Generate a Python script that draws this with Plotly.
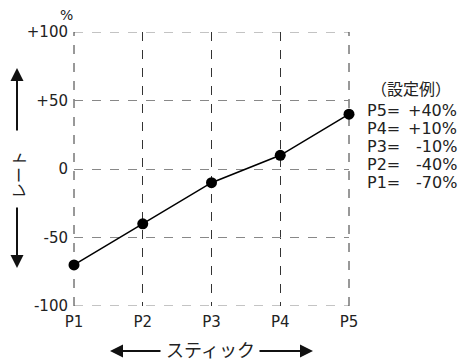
import plotly.graph_objects as go

points = ["P1", "P2", "P3", "P4", "P5"]
rates = [-70, -40, -10, 10, 40]
y_ticks = [-100, -50, 0, 50, 100]
y_tick_labels = ["-100", "-50", "0", "+50", "+100"]
legend_title = "（設定例）"
legend_names = ["P5=", "P4=", "P3=", "P2=", "P1="]
legend_values = ["+40%", "+10%", "-10%", "-40%", "-70%"]

FONT = "DejaVu Sans, sans-serif"
JP = "Noto Sans CJK JP"
# plot area in screenshot pixels
L, R, T, B = 74, 349, 32, 306
W, H = 460, 361

def px(x):
    return (x - L) / (R - L)

def py(y):
    return (B - y) / (B - T)

fig = go.Figure()
fig.add_trace(go.Scatter(
    x=points, y=rates, mode="lines+markers",
    line=dict(color="black", width=1.5),
    marker=dict(color="black", size=11),
    cliponaxis=False, showlegend=False, hoverinfo="skip",
))

fig.update_xaxes(
    type="category", range=[0, len(points) - 1],
    showgrid=True, gridcolor="#333333", griddash="dash", gridwidth=1,
    zeroline=False, showline=False, ticks="", ticklabelstandoff=5,
    tickfont=dict(family=FONT, size=15, color="#222"),
)
fig.update_yaxes(
    range=[-100, 100], tickvals=y_ticks, ticktext=y_tick_labels,
    showgrid=True, gridcolor="#888888", griddash="dash", gridwidth=1,
    zeroline=False, showline=False, ticks="", ticklabelstandoff=5,
    tickfont=dict(family=FONT, size=15, color="#222"),
)

# edge grid lines (plotly omits gridlines on the plot border)
shapes = [
    dict(type="line", xref="paper", yref="y", x0=0, x1=1, y0=y_ticks[0], y1=y_ticks[0],
         line=dict(color="#888888", width=1, dash="dash"), layer="below"),
    dict(type="line", xref="paper", yref="y", x0=0, x1=1, y0=y_ticks[-1], y1=y_ticks[-1],
         line=dict(color="#888888", width=1, dash="dash"), layer="below"),
    dict(type="line", xref="paper", yref="paper", x0=0, x1=0, y0=0, y1=1,
         line=dict(color="#333333", width=1, dash="dash"), layer="below"),
    dict(type="line", xref="paper", yref="paper", x0=1, x1=1, y0=0, y1=1,
         line=dict(color="#333333", width=1, dash="dash"), layer="below"),
]

def arrow(tip_x, tip_y, tail_x, tail_y):
    return dict(text="", xref="paper", yref="paper", x=px(tip_x), y=py(tip_y),
                ax=tail_x - tip_x, ay=tail_y - tip_y, axref="pixel", ayref="pixel",
                showarrow=True, arrowhead=2, arrowsize=1.3, arrowwidth=2, arrowcolor="#111")

def label(text, x, y, size, family=FONT, xanchor="center", angle=0):
    return dict(text=text, xref="paper", yref="paper", x=px(x), y=py(y),
                xanchor=xanchor, yanchor="middle", textangle=angle, showarrow=False,
                borderpad=0, font=dict(family=family, size=size, color="#222"))

ann = []
ann.append(label("%", 66, 15, 14))
ann.append(arrow(17, 68, 17, 132))
ann.append(arrow(17, 268, 17, 206))
ann.append(label("レート", 18, 175, 16, family=JP, angle=-90))
ann.append(arrow(110, 351, 162, 351))
ann.append(arrow(313, 351, 258, 351))
ann.append(label("スティック", 210, 349, 18, family=JP))
ann.append(label(legend_title, 411, 88, 16, family=JP))
for i, (nm, val) in enumerate(zip(legend_names, legend_values)):
    yy = 110 + i * 18
    ann.append(label(nm, 366, yy, 16, xanchor="left"))
    ann.append(label(val, 458, yy, 16, xanchor="right"))

fig.update_layout(
    width=W, height=H, margin=dict(l=L, r=W - R, t=T, b=H - B),
    plot_bgcolor="white", paper_bgcolor="white", annotations=ann, shapes=shapes,
)
fig.write_html(
    "out.html",
    config={"displayModeBar": False},
    post_script="document.body.style.margin='0';document.body.style.overflow='hidden';",
)
